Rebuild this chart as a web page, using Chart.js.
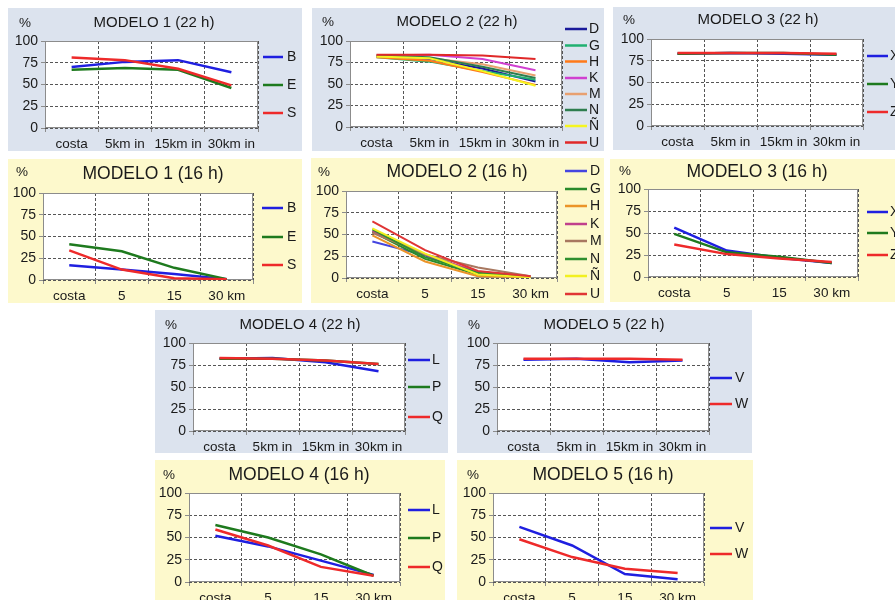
<!DOCTYPE html>
<html><head><meta charset="utf-8">
<script src="https://cdn.jsdelivr.net/npm/chart.js@4"></script>
<style>
html,body{margin:0;padding:0;background:#fff;width:895px;height:600px;overflow:hidden;position:relative;}
.panel{position:absolute;overflow:hidden;}
.blue{background:#dce3ee;}
.yellow{background:#fdf9cc;}
canvas{display:block;}
</style></head><body>
<script>
// ---------- DATA ----------
const cats22 = ["costa", "5km in", "15km in", "30km in"];
const cats16 = ["costa", "5", "15", "30 km"];
const yTicks = [0, 25, 50, 75, 100];

// Modelo 1
const m1_22_B = [70, 76, 78, 64];
const m1_22_E = [67, 69, 67, 46];
const m1_22_S = [81, 78, 68, 49];
const m1_16_B = [17, 12, 7, 1];
const m1_16_E = [41, 33, 14, 1];
const m1_16_S = [34, 12, 2, 1];

// Modelo 2
const m2_22_D = [82, 79, 68, 53];
const m2_22_G = [81, 76, 65, 55];
const m2_22_H = [81, 77, 64, 49];
const m2_22_K = [83, 84, 79, 66];
const m2_22_M = [82, 80, 73, 60];
const m2_22_N = [83, 81, 70, 57];
const m2_22_NN = [82, 80, 65, 48];
const m2_22_U = [84, 84, 83, 79];
const m2_16_D = [42, 26, 5, 1];
const m2_16_G = [53, 22, 4, 1];
const m2_16_H = [49, 19, 2, 1];
const m2_16_K = [54, 27, 7, 2];
const m2_16_M = [52, 27, 12, 2];
const m2_16_N = [56, 24, 6, 1];
const m2_16_NN = [57, 28, 4, 1];
const m2_16_U = [65, 32, 8, 2];

// Modelo 3
const m3_22_X = [83, 84, 83, 82];
const m3_22_Y = [83, 84, 84, 82];
const m3_22_Z = [84, 84, 84, 83];
const m3_16_X = [56, 30, 22, 16];
const m3_16_Y = [49, 28, 23, 16];
const m3_16_Z = [37, 26, 21, 17];

// Modelo 4
const m4_22_L = [82, 83, 78, 68];
const m4_22_P = [82, 82, 80, 76];
const m4_22_Q = [83, 82, 80, 76];
const m4_16_L = [52, 40, 24, 8];
const m4_16_P = [64, 50, 31, 7];
const m4_16_Q = [59, 41, 17, 7];

// Modelo 5
const m5_22_V = [81, 82, 78, 80];
const m5_22_W = [82, 82, 82, 81];
const m5_16_V = [62, 41, 9, 3];
const m5_16_W = [48, 28, 15, 10];

// ---------- STYLE ----------
const BLUE = '#1f1fe0', GREEN = '#1e7a1e', RED = '#ee2a2a';
const c2n = {D:'#1a1a9a', G:'#20b070', H:'#ff7a1a', K:'#d040d0', M:'#e8a070', N:'#2e7d4e', 'Ñ':'#f5f520', U:'#e02828'};
const c2d = {D:'#4545e0', G:'#2a8a2a', H:'#eb9428', K:'#c0408c', M:'#a87860', N:'#2f8f2f', 'Ñ':'#f2f020', U:'#e03535'};
const FONT = "'Liberation Sans', Arial, sans-serif";
Chart.defaults.font.family = FONT;
Chart.defaults.color = '#1a1a1a';

function ser(name, data, color){ return {name, data, color}; }

const panels = [
  {bg:'blue', title:'MODELO 1 (22 h)', tsize:15, box:[8,8,294,143], plot:[45,41,258,128], tpos:[154,23], ppos:[25,23], labels:cats22, lw:2.5,
   leg:{x1:263,x2:283,tx:287,ys:[57,85,113]},
   series:[ser('B',m1_22_B,BLUE),ser('E',m1_22_E,GREEN),ser('S',m1_22_S,RED)]},
  {bg:'blue', title:'MODELO 2 (22 h)', tsize:15, box:[312,8,292,143], plot:[350,41,562,127], tpos:[457,22], ppos:[328,22], labels:cats22, lw:2,
   leg:{x1:565,x2:587,tx:589,ys:[29,45.5,61.5,78,94,110,126,142.5]},
   series:[ser('D',m2_22_D,c2n.D),ser('G',m2_22_G,c2n.G),ser('H',m2_22_H,c2n.H),ser('K',m2_22_K,c2n.K),ser('M',m2_22_M,c2n.M),ser('N',m2_22_N,c2n.N),ser('Ñ',m2_22_NN,c2n['Ñ']),ser('U',m2_22_U,c2n.U)]},
  {bg:'blue', title:'MODELO 3 (22 h)', tsize:15, box:[613,7,282,143], plot:[651,39,863,126], tpos:[758,20], ppos:[629,20], labels:cats22, lw:2.5,
   leg:{x1:867,x2:888,tx:890,ys:[56,84,112]},
   series:[ser('X',m3_22_X,BLUE),ser('Y',m3_22_Y,GREEN),ser('Z',m3_22_Z,RED)]},
  {bg:'yellow', title:'MODELO 1 (16 h)', tsize:17.5, box:[8,159,294,144], plot:[43,193,253,280], tpos:[153,174], ppos:[22,172], labels:cats16, lw:2.5,
   leg:{x1:262,x2:283,tx:287,ys:[208,237,265]},
   series:[ser('B',m1_16_B,BLUE),ser('E',m1_16_E,GREEN),ser('S',m1_16_S,RED)]},
  {bg:'yellow', title:'MODELO 2 (16 h)', tsize:17.5, box:[311,158,293,145], plot:[346,191,557,278], tpos:[457,172], ppos:[324,172], labels:cats16, lw:2,
   leg:{x1:565,x2:587,tx:590,ys:[171,189,206,224,241,259,276,294]},
   series:[ser('D',m2_16_D,c2d.D),ser('G',m2_16_G,c2d.G),ser('H',m2_16_H,c2d.H),ser('K',m2_16_K,c2d.K),ser('M',m2_16_M,c2d.M),ser('N',m2_16_N,c2d.N),ser('Ñ',m2_16_NN,c2d['Ñ']),ser('U',m2_16_U,c2d.U)]},
  {bg:'yellow', title:'MODELO 3 (16 h)', tsize:17.5, box:[610,159,285,143], plot:[648,189,858,277], tpos:[757,172], ppos:[625,171], labels:cats16, lw:2.5,
   leg:{x1:867,x2:888,tx:890,ys:[212,233,255]},
   series:[ser('X',m3_16_X,BLUE),ser('Y',m3_16_Y,GREEN),ser('Z',m3_16_Z,RED)]},
  {bg:'blue', title:'MODELO 4 (22 h)', tsize:15, box:[155,310,293,143], plot:[193,343,405,431], tpos:[300,325], ppos:[171,325], labels:cats22, lw:2.5,
   leg:{x1:408,x2:430,tx:432,ys:[360,387,417]},
   series:[ser('L',m4_22_L,BLUE),ser('P',m4_22_P,GREEN),ser('Q',m4_22_Q,RED)]},
  {bg:'blue', title:'MODELO 5 (22 h)', tsize:15, box:[457,310,295,143], plot:[497,343,709,431], tpos:[604,325], ppos:[474,325], labels:cats22, lw:2.5,
   leg:{x1:710,x2:732,tx:735,ys:[378,404]},
   series:[ser('V',m5_22_V,BLUE),ser('W',m5_22_W,RED)]},
  {bg:'yellow', title:'MODELO 4 (16 h)', tsize:17.5, box:[155,460,290,140], plot:[189,493,400,582], tpos:[299,475], ppos:[169,475], labels:cats16, lw:2.5,
   leg:{x1:408,x2:430,tx:432,ys:[510,538,567]},
   series:[ser('L',m4_16_L,BLUE),ser('P',m4_16_P,GREEN),ser('Q',m4_16_Q,RED)]},
  {bg:'yellow', title:'MODELO 5 (16 h)', tsize:17.5, box:[457,460,296,140], plot:[493,493,704,582], tpos:[603,475], ppos:[473,475], labels:cats16, lw:2.5,
   leg:{x1:710,x2:732,tx:735,ys:[528,554]},
   series:[ser('V',m5_16_V,BLUE),ser('W',m5_16_W,RED)]}
];

function makePanel(p){
  const [bx,by,bw,bh] = p.box;
  const [l,t,r,b] = p.plot;
  const div = document.createElement('div');
  div.className = 'panel ' + p.bg;
  div.style.left = bx+'px'; div.style.top = by+'px';
  div.style.width = bw+'px'; div.style.height = bh+'px';
  const cv = document.createElement('canvas');
  cv.width = bw; cv.height = bh;
  cv.style.width = bw+'px'; cv.style.height = bh+'px';
  div.appendChild(cv);
  document.body.appendChild(div);

  const deco = {
    id:'deco',
    beforeDraw(chart){
      const a = chart.chartArea, ctx = chart.ctx;
      ctx.save(); ctx.fillStyle = '#ffffff';
      ctx.fillRect(a.left, a.top, a.right-a.left, a.bottom-a.top);
      ctx.restore();
    },
    beforeDatasetsDraw(chart){
      const a = chart.chartArea, ctx = chart.ctx;
      ctx.save(); ctx.strokeStyle = '#8c8c8c'; ctx.lineWidth = 1;
      ctx.strokeRect(Math.round(a.left)+0.5, Math.round(a.top)+0.5, Math.round(a.right-a.left)-1, Math.round(a.bottom-a.top)-1);
      ctx.restore();
    },
    afterDraw(chart){
      const ctx = chart.ctx;
      ctx.save();
      ctx.fillStyle = '#1a1a1a';
      ctx.textBaseline = 'middle';
      ctx.textAlign = 'center';
      ctx.font = p.tsize + 'px ' + FONT;
      ctx.fillText(p.title, p.tpos[0]-bx, p.tpos[1]-by);
      ctx.font = '13.5px ' + FONT;
      ctx.fillText('%', p.ppos[0]-bx, p.ppos[1]-by);
      ctx.textAlign = 'left';
      ctx.font = '14px ' + FONT;
      chart.data.datasets.forEach((ds,i)=>{
        const y = p.leg.ys[i]-by;
        ctx.strokeStyle = ds.borderColor; ctx.lineWidth = 2.5;
        ctx.beginPath(); ctx.moveTo(p.leg.x1-bx, y); ctx.lineTo(p.leg.x2-bx, y); ctx.stroke();
        ctx.fillText(ds.label, p.leg.tx-bx, y+0.5);
      });
      ctx.restore();
    }
  };

  const n = p.series.length;
  new Chart(cv, {
    type:'line',
    data:{
      labels:p.labels,
      datasets:p.series.map((s,i)=>({label:s.name, data:s.data, borderColor:s.color, backgroundColor:s.color,
        borderWidth:p.lw, pointRadius:0, pointHoverRadius:0, tension:0, fill:false, order:n-i}))
    },
    options:{
      responsive:false, maintainAspectRatio:false, animation:false, events:[],
      layout:{padding:{left:0, top:t-by, right:bx+bw-r, bottom:0}},
      plugins:{legend:{display:false}, tooltip:{enabled:false}, title:{display:false}},
      scales:{
        x:{
          type:'category', offset:true,
          grid:{offset:true, color:'#555555', lineWidth:1, drawTicks:true, tickLength:4, tickColor:'#8c8c8c', tickWidth:1, tickBorderDash:[]},
          border:{display:false, dash:[3,2]},
          ticks:{autoSkip:false, maxRotation:0, minRotation:0, padding:4, font:{size:13.5}, color:'#1a1a1a'},
          afterFit(s){ s.height = by+bh-b; }
        },
        y:{
          min:0, max:100,
          afterBuildTicks(s){ s.ticks = yTicks.map(v=>({value:v})); },
          grid:{color:'#555555', lineWidth:1, drawTicks:true, tickLength:4, tickColor:'#8c8c8c', tickWidth:1, tickBorderDash:[]},
          border:{display:false, dash:[3,2]},
          ticks:{padding:3, font:{size:14}, color:'#1a1a1a'},
          afterFit(s){ s.width = l-bx; }
        }
      }
    },
    plugins:[deco]
  });
}
panels.forEach(makePanel);
</script>
</body></html>
